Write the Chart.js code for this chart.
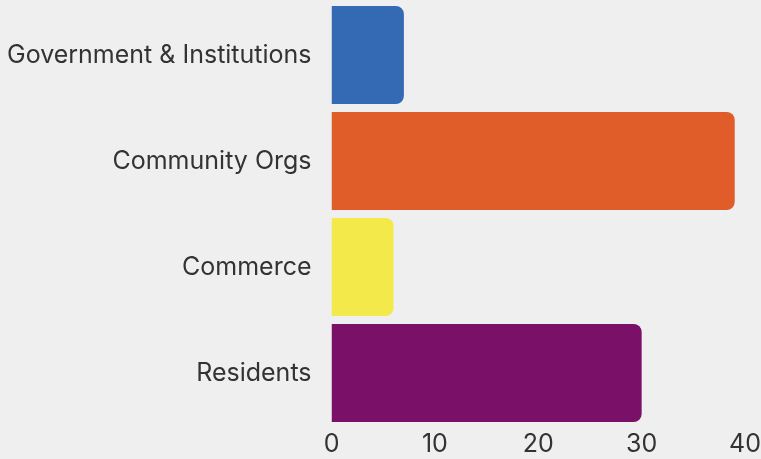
<!DOCTYPE html>
<html>
<head>
<meta charset="utf-8">
<script src="https://cdn.jsdelivr.net/npm/chart.js@4/dist/chart.umd.min.js"></script>
<style>
  html, body { margin: 0; padding: 0; background: #efefef; }
  #wrap { width: 761px; height: 459px; }
</style>
</head>
<body>
<div id="wrap"><canvas id="chart"></canvas></div>
<script>
// values
let categories = ["Government & Institutions", "Community Orgs", "Commerce", "Residents"];
let counts = [7, 39, 6, 30];
let barColors = ["#3469b3", "#e05c28", "#f3e94a", "#7a1068"];
let xTicks = [0, 10, 20, 30, 40];

Chart.defaults.font.family = "Inter, 'Noto Sans', sans-serif";
Chart.defaults.color = "#333333";

let ctx = document.getElementById("chart").getContext("2d");
new Chart(ctx, {
  type: "bar",
  data: {
    labels: categories,
    datasets: [{
      data: counts,
      backgroundColor: barColors,
      borderWidth: 0,
      borderRadius: 8,
      borderSkipped: "start",
      categoryPercentage: 1,
      barPercentage: 0.925
    }]
  },
  options: {
    indexAxis: "y",
    responsive: true,
    maintainAspectRatio: false,
    animation: false,
    layout: { padding: { top: 2, right: 0, bottom: 0, left: 4 } },
    plugins: {
      legend: { display: false },
      tooltip: { enabled: false }
    },
    scales: {
      x: {
        min: 0,
        max: 40,
        afterBuildTicks: axis => { axis.ticks = xTicks.map(v => ({ value: v })); },
        grid: { display: false, tickLength: 3 },
        border: { display: false },
        ticks: { font: { size: 25 }, padding: 0 }
      },
      y: {
        grid: { display: false, tickLength: 17 },
        border: { display: false },
        ticks: { font: { size: 25 }, padding: 3 },
        afterFit: scale => { scale.paddingTop = 0; scale.paddingBottom = 0; }
      }
    }
  }
});
</script>
</body>
</html>
